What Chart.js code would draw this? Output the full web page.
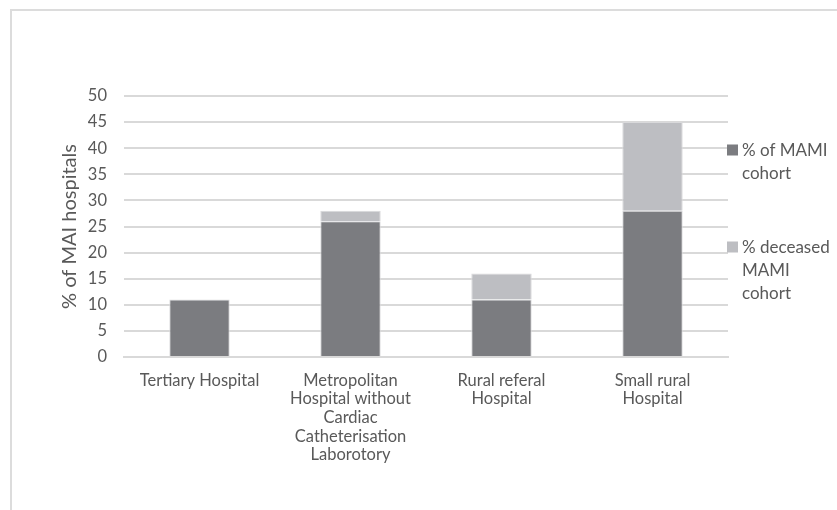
<!DOCTYPE html>
<html>
<head>
<meta charset="utf-8">
<script src="https://cdn.jsdelivr.net/npm/chart.js@4.4.1/dist/chart.umd.min.js"></script>
<style>
  html, body {margin: 0; padding: 0; background: #fff;}
  #wrap {position: relative; width: 837px; height: 510px;}
  #frame {position: absolute; left: 10px; top: 9px; right: -2px; bottom: -2px; border: 2px solid #dcdcdc;}
</style>
</head>
<body>
<div id="wrap">
  <div id="frame"></div>
  <canvas id="chart" width="837" height="510"></canvas>
</div>
<script>
const categories = [
    'Tertiary Hospital',
    ['Metropolitan', 'Hospital without', 'Cardiac', 'Catheterisation', 'Laborotory'],
    ['Rural referal', 'Hospital'],
    ['Small rural', 'Hospital']
]
const cohortValues = [11, 26, 11, 28]
const deceasedValues = [0, 2, 5, 17]
const legendLabels = [['% of MAMI', 'cohort'], ['% deceased', 'MAMI', 'cohort']]
const yTicks = [0, 5, 10, 15, 20, 25, 30, 35, 40, 45, 50]

const textColor = '#595959'
const darkGray = '#7b7c80'
const lightGray = '#bdbec2'
const fontFamily = 'Lato, "Open Sans", sans-serif'

// legend drawn by hand because the labels wrap over several lines
const sideLegend = {
    id: 'sideLegend',
    afterDraw(chart) {
        const ctx = chart.ctx
        const items = [{color: darkGray, y: 150}, {color: lightGray, y: 247}]
        ctx.save()
        ctx.font = '17px ' + fontFamily
        ctx.textBaseline = 'middle'
        items.forEach((item, i) => {
            ctx.fillStyle = item.color
            ctx.fillRect(727, item.y - 5.5, 11, 11)
            ctx.fillStyle = textColor
            legendLabels[i].forEach((line, j) => {
                ctx.fillText(line, 742, item.y + 1 + j * 23)
            })
        })
        ctx.restore()
    }
}

new Chart(document.getElementById('chart'), {
    type: 'bar',
    data: {
        labels: categories,
        datasets: [{
            label: '% of MAMI cohort',
            data: cohortValues,
            backgroundColor: darkGray,
            borderColor: '#d9d9db',
            borderWidth: {left: 1, right: 1, top: 1, bottom: 0},
            borderSkipped: 'bottom',
            categoryPercentage: 1,
            barPercentage: 0.4
        }, {
            label: '% deceased MAMI cohort',
            data: deceasedValues,
            backgroundColor: lightGray,
            borderColor: '#d9d9db',
            borderWidth: {left: 1, right: 1, top: 1, bottom: 0},
            borderSkipped: 'bottom',
            categoryPercentage: 1,
            barPercentage: 0.4
        }]
    },
    options: {
        responsive: false,
        animation: false,
        layout: {padding: {left: 58, right: 109, top: 96, bottom: 0}},
        plugins: {legend: {display: false}, tooltip: {enabled: false}},
        scales: {
            x: {
                stacked: true,
                grid: {display: false},
                border: {display: true, color: '#d9d9d9', width: 2},
                ticks: {color: textColor, font: {family: fontFamily, size: 16.5, lineHeight: 1.13}, maxRotation: 0, autoSkip: false, padding: 6},
                afterFit: (scale) => { scale.height = 510 - 357 }
            },
            y: {
                stacked: true,
                min: 0,
                max: 50,
                afterBuildTicks: (scale) => { scale.ticks = yTicks.map(v => ({value: v})) },
                grid: {color: '#d9d9d9', lineWidth: 2, drawTicks: false},
                border: {display: false},
                ticks: {color: textColor, font: {family: fontFamily, size: 16.5}, padding: 17},
                title: {display: true, text: '% of MAI hospitals', color: textColor, font: {family: fontFamily, size: 20}, padding: 0},
                afterFit: (scale) => { scale.width = 124 - 58 }
            }
        }
    },
    plugins: [sideLegend]
})
</script>
</body>
</html>
